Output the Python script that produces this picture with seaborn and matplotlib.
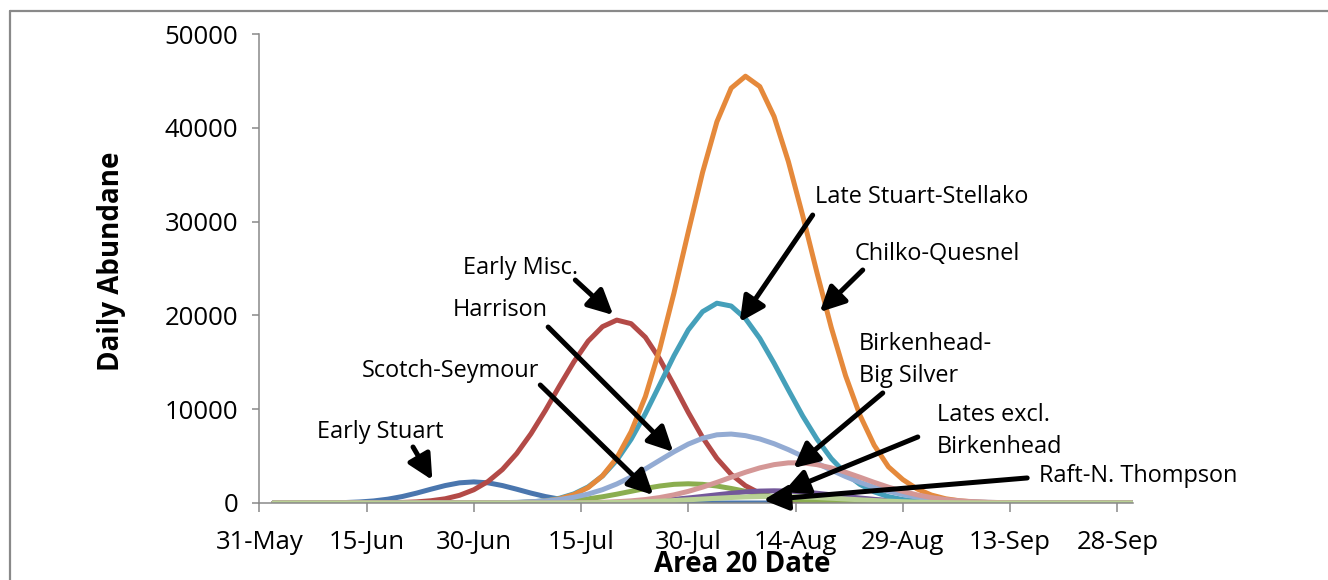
import matplotlib.pyplot as plt
import matplotlib.dates as mdates
from matplotlib.lines import Line2D
import pandas as pd
import seaborn as sns

# dates every 2 days, 2-Jun to 30-Sep
dates = pd.date_range("2014-06-02", "2014-09-30", freq="2D")

early_stuart = [0, 0, 0, 8, 20, 49, 109, 221, 410, 690,
                1055, 1470, 1860, 2150, 2250, 2150, 1860, 1470, 1055, 690,
                410, 221, 109, 49, 20, 8, 0, 0, 0, 0,
                0, 0, 0, 0, 0, 0, 0, 0, 0, 0,
                0, 0, 0, 0, 0, 0, 0, 0, 0, 0,
                0, 0, 0, 0, 0, 0, 0, 0, 0, 0,
                0]
early_misc = [0, 0, 0, 0, 0, 0, 0, 10, 25, 60,
              120, 240, 450, 820, 1410, 2300, 3570, 5270, 7390, 9850,
              12500, 15050, 17260, 18800, 19500, 19120, 17670, 15350, 12550, 9660,
              6990, 4760, 3050, 1840, 1040, 560, 280, 130, 60, 25,
              10, 0, 0, 0, 0, 0, 0, 0, 0, 0,
              0, 0, 0, 0, 0, 0, 0, 0, 0, 0,
              0]
scotch_seymour = [0, 0, 0, 0, 0, 0, 0, 0, 0, 0,
                  0, 0, 0, 0, 0, 0, 11, 23, 47, 90,
                  164, 277, 444, 665, 940, 1245, 1550, 1810, 1990, 2050,
                  1990, 1810, 1550, 1245, 940, 665, 444, 277, 164, 90,
                  47, 23, 11, 0, 0, 0, 0, 0, 0, 0,
                  0, 0, 0, 0, 0, 0, 0, 0, 0, 0,
                  0]
lates_excl = [0, 0, 0, 0, 0, 0, 0, 0, 0, 0,
              0, 0, 0, 0, 0, 0, 0, 0, 0, 0,
              0, 10, 20, 37, 65, 110, 175, 267, 387, 535,
              700, 875, 1040, 1180, 1270, 1300, 1270, 1180, 1040, 875,
              700, 535, 387, 267, 175, 110, 65, 37, 20, 10,
              0, 0, 0, 0, 0, 0, 0, 0, 0, 0,
              0]
late_stuart = [0, 0, 0, 0, 0, 0, 0, 0, 0, 0,
               0, 0, 0, 0, 0, 0, 20, 50, 120, 250,
               510, 970, 1720, 2880, 4560, 6790, 9530, 12600, 15700, 18450,
               20400, 21300, 21000, 19660, 17550, 14900, 12060, 9280, 6810, 4740,
               3150, 1990, 1190, 680, 370, 190, 90, 40, 20, 0,
               0, 0, 0, 0, 0, 0, 0, 0, 0, 0,
               0]
chilko = [0, 0, 0, 0, 0, 0, 0, 0, 0, 0,
          0, 0, 0, 0, 0, 0, 15, 40, 90, 210,
          450, 900, 1650, 2900, 4800, 7600, 11350, 16400, 22400, 28900,
          35250, 40640, 44230, 45500, 44400, 41200, 36400, 30650, 24550, 18700,
          13570, 9370, 6160, 3850, 2500, 1500, 850, 450, 230, 110,
          50, 20, 0, 0, 0, 0, 0, 0, 0, 0,
          0]
harrison = [0, 0, 0, 0, 0, 0, 0, 0, 0, 0,
            0, 0, 0, 0, 0, 15, 35, 70, 125, 220,
            380, 610, 955, 1420, 2030, 2770, 3630, 4550, 5460, 6280,
            6900, 7270, 7350, 7180, 6830, 6320, 5690, 4980, 4240, 3510,
            2820, 2210, 1685, 1250, 900, 630, 430, 285, 180, 110,
            70, 40, 25, 15, 0, 0, 0, 0, 0, 0,
            0]
birkenhead = [0, 0, 0, 0, 0, 0, 0, 0, 0, 0,
              0, 0, 0, 0, 0, 0, 0, 0, 0, 0,
              10, 20, 40, 75, 135, 230, 370, 580, 870, 1240,
              1690, 2200, 2750, 3280, 3745, 4090, 4280, 4280, 4090, 3745,
              3280, 2750, 2200, 1690, 1240, 870, 580, 370, 230, 135,
              75, 40, 20, 10, 0, 0, 0, 0, 0, 0,
              0]
raft = [0, 0, 0, 0, 0, 0, 0, 0, 0, 0,
        0, 0, 0, 0, 0, 0, 0, 0, 0, 0,
        0, 14, 24, 39, 62, 95, 139, 195, 263, 341,
        425, 508, 585, 646, 686, 700, 686, 646, 585, 508,
        425, 341, 263, 195, 139, 95, 62, 39, 24, 14,
        0, 0, 0, 0, 0, 0, 0, 0, 0, 0,
        0]

stocks = ["Early Stuart", "Early Misc.", "Scotch-Seymour", "Lates excl. Birkenhead",
          "Late Stuart-Stellako", "Chilko-Quesnel", "Harrison",
          "Birkenhead-Big Silver", "Raft-N. Thompson"]
values = [early_stuart, early_misc, scotch_seymour, lates_excl, late_stuart,
          chilko, harrison, birkenhead, raft]
colors = ["#4A76AE", "#B34A47", "#8BAE4F", "#73589A", "#45A0BA",
          "#E5893B", "#93ABD3", "#D49796", "#B9D195"]

df = pd.concat([pd.DataFrame({"date": dates, "stock": s, "abundance": v})
                for s, v in zip(stocks, values)], ignore_index=True)

start = pd.Timestamp("2014-05-31")


def d(n):
    return mdates.date2num(start + pd.Timedelta(days=n))


# label text, text position (day, value), alignment, arrow tail, arrow tip
notes = [
    ("Early Stuart", (16.9, 7600), "center", (21.5, 5970), (24.2, 2450)),
    ("Early Misc.", (36.6, 25050), "center", (44.2, 23770), (49.5, 20040)),
    ("Harrison", (33.7, 20600), "center", (40.4, 18760), (57.9, 5440)),
    ("Scotch-Seymour", (26.7, 14100), "center", (39.3, 12580), (55.1, 850)),
    ("Late Stuart-Stellako", (92.6, 32600), "center", (77.4, 30700), (67.2, 19300)),
    ("Chilko-Quesnel", (94.8, 26550), "center", (84.4, 24840), (78.4, 20360)),
    ("Birkenhead-\nBig Silver", (83.9, 15250), "left", (87.2, 11730), (74.7, 3730)),
    ("Lates excl.\nBirkenhead", (94.8, 7680), "left", (92.1, 7040), (73.3, 1170)),
    ("Raft-N. Thompson", (122.9, 2880), "center", (107.4, 2670), (70.5, 320)),
]

sns.set_style("white")
plt.rcParams["font.family"] = ["Open Sans", "DejaVu Sans"]
plt.rcParams["text.color"] = "black"
grey = "#898989"

fig = plt.figure(figsize=(13.28, 5.8), dpi=100)
ax = fig.add_axes([259.3 / 1328, 1 - 503 / 580, 873.7 / 1328, 469 / 580])

sns.lineplot(data=df, x="date", y="abundance", hue="stock", hue_order=stocks,
             palette=colors, linewidth=3.6, errorbar=None, legend=False, ax=ax,
             solid_joinstyle="round", solid_capstyle="round")

ax.set_xlim(d(0), d(122.2))
ax.set_ylim(0, 50000)
ax.set_yticks(range(0, 50001, 10000))
ax.set_xticks([d(15 * k) for k in range(9)])
ax.xaxis.set_major_formatter(mdates.DateFormatter("%d-%b"))
ax.set_xlabel("")
ax.set_ylabel("")

for side in ["top", "right"]:
    ax.spines[side].set_visible(False)
for side in ["left", "bottom"]:
    ax.spines[side].set_color(grey)
    ax.spines[side].set_linewidth(1.1)
ax.tick_params(axis="y", length=5, width=1.1, color=grey, pad=10,
               labelsize=18.5, labelcolor="black", left=True)
ax.tick_params(axis="x", length=6.5, width=1.1, color=grey, pad=13,
               labelsize=18.5, labelcolor="black", bottom=True)

for text, (tx, ty), ha, tail, tip in notes:
    ax.text(d(tx), ty, text, fontsize=16.9, ha=ha, va="center",
            linespacing=1.45, clip_on=False, color="black")
    ax.annotate("", xy=(d(tip[0]), tip[1]), xytext=(d(tail[0]), tail[1]),
                arrowprops=dict(arrowstyle="-|>,head_length=0.6,head_width=0.3",
                                lw=3.6, color="black", mutation_scale=25,
                                shrinkA=0, shrinkB=0),
                annotation_clip=False)

fig.text(112 / 1328, 1 - 261 / 580, "Daily Abundane", rotation=90,
         ha="center", va="center", fontsize=20, fontweight="bold", color="black")
fig.text(742 / 1328, 1 - 572 / 580, "Area 20 Date", ha="center",
         va="baseline", fontsize=20, fontweight="bold", color="black")

# outer chart frame
x0, y0 = 10 / 1328, 1 - 11 / 580
fig.add_artist(Line2D([x0, x0], [-0.1, y0], color=grey, lw=1.6))
fig.add_artist(Line2D([x0, 1.1], [y0, y0], color=grey, lw=1.6))

fig.savefig("out.png", dpi=100)
